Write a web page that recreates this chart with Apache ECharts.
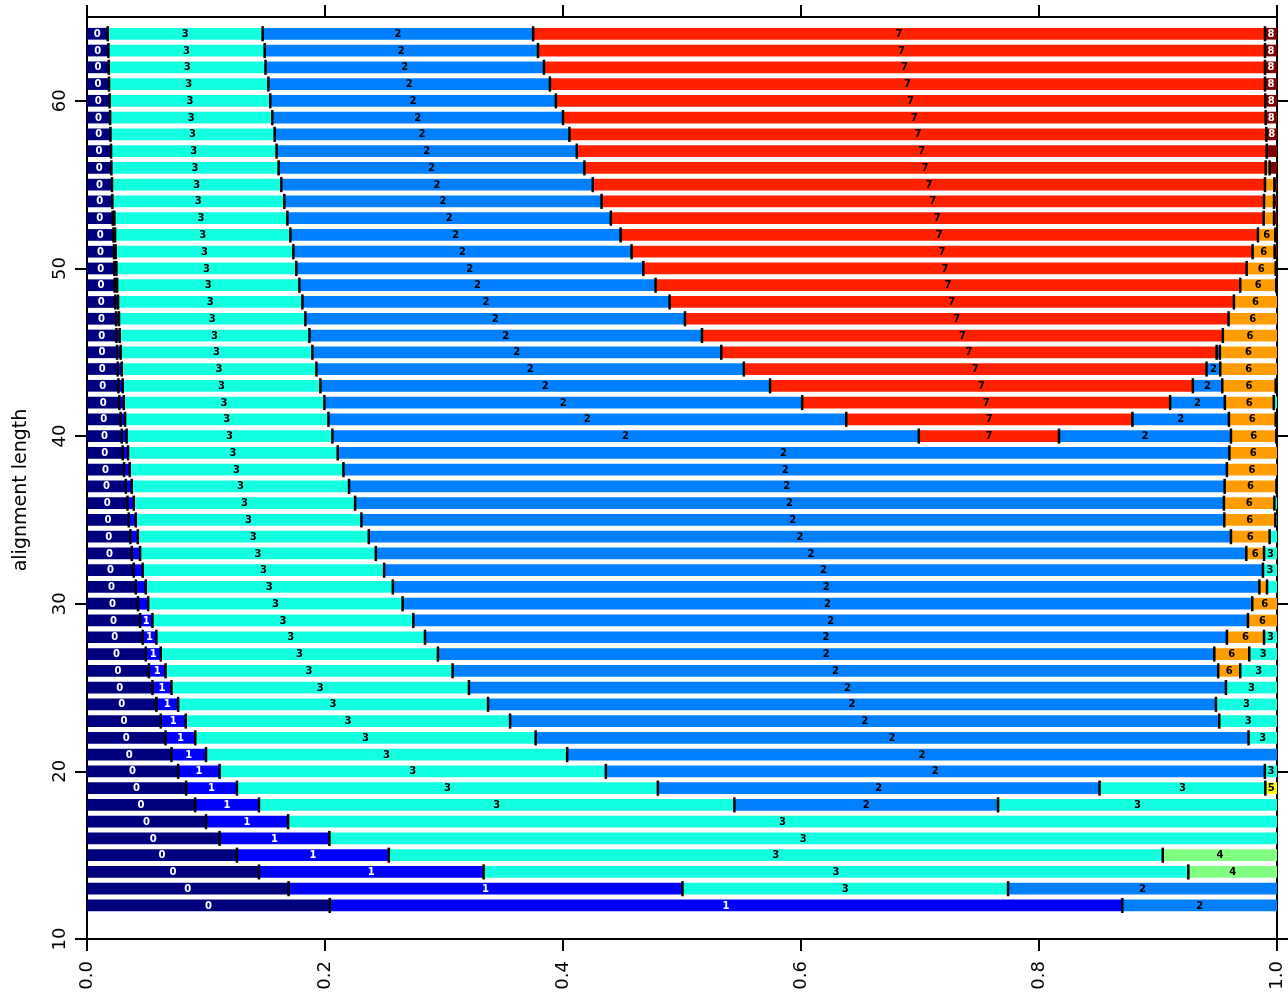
<!DOCTYPE html>
<html>
<head>
<meta charset="utf-8">
<script src="https://cdn.jsdelivr.net/npm/echarts@6/dist/echarts.min.js"></script>
<style>
  html, body { margin: 0; padding: 0; background: #fff; }
  #chart { width: 1288px; height: 995px; }
</style>
</head>
<body>
<div id="chart"></div>
<script>
  // alignment length of each row (y)
  const lengths = [12, 13, 14, 15, 16, 17, 18, 19, 20, 21, 22, 23, 24, 25, 26, 27, 28, 29, 30, 31,
    32, 33, 34, 35, 36, 37, 38, 39, 40, 41, 42, 43, 44, 45, 46, 47, 48, 49, 50, 51,
    52, 53, 54, 55, 56, 57, 58, 59, 60, 61, 62, 63, 64];

  // category of each run, left to right
  const segCats = [
    [0,1,2], [0,1,3,2], [0,1,3,4], [0,1,3,4], [0,1,3], [0,1,3], [0,1,3,2,3], [0,1,3,2,3,5],
    [0,1,3,2,3], [0,1,3,2], [0,1,3,2,3], [0,1,3,2,3], [0,1,3,2,3], [0,1,3,2,3],
    [0,1,3,2,6,3], [0,1,3,2,6,3], [0,1,3,2,6,3], [0,1,3,2,6], [0,1,3,2,6], [0,1,3,2,6,3],
    [0,1,3,2,3], [0,1,3,2,6,3], [0,1,3,2,6,3], [0,1,3,2,6,3], [0,1,3,2,6,3], [0,1,3,2,6,3],
    [0,1,3,2,6], [0,1,3,2,6],
    [0,1,3,2,7,2,6,3], [0,1,3,2,7,2,6,3], [0,1,3,2,7,2,6,3], [0,1,3,2,7,2,6,3],
    [0,1,3,2,7,2,6], [0,1,3,2,7,2,6], [0,1,3,2,7,6], [0,1,3,2,7,6], [0,1,3,2,7,6],
    [0,1,3,2,7,6,8], [0,1,3,2,7,6,8], [0,1,3,2,7,6,8], [0,1,3,2,7,6,8], [0,1,3,2,7,6,8],
    [0,3,2,7,6,8], [0,3,2,7,6,8], [0,3,2,7,6,8],
    [0,3,2,7,8], [0,3,2,7,8], [0,3,2,7,8], [0,3,2,7,8], [0,3,2,7,8], [0,3,2,7,8], [0,3,2,7,8], [0,3,2,7,8]
  ];

  // cumulative fraction where each run ends
  const segEnds = [
    [0.204, 0.870, 1],
    [0.1694, 0.5004, 0.774, 1],
    [0.1445, 0.3333, 0.9255, 1],
    [0.126, 0.2536, 0.904, 1],
    [0.1114, 0.2037, 1],
    [0.100, 0.169, 1],
    [0.0909, 0.1445, 0.544, 0.7656, 1],
    [0.0833, 0.126, 0.4797, 0.8509, 0.9902, 1],
    [0.0766, 0.1114, 0.436, 0.9898, 1],
    [0.071, 0.100, 0.4035, 1],
    [0.066, 0.091, 0.377, 0.9761, 1],
    [0.062, 0.083, 0.3555, 0.9515, 1],
    [0.0583, 0.0766, 0.337, 0.9487, 1],
    [0.055, 0.071, 0.321, 0.9571, 1],
    [0.052, 0.066, 0.3072, 0.9506, 0.9691, 1],
    [0.0494, 0.062, 0.2949, 0.9473, 0.9767, 1],
    [0.0468, 0.0583, 0.284, 0.9579, 0.9891, 1],
    [0.0446, 0.055, 0.2742, 0.9756, 1],
    [0.0429, 0.0514, 0.2652, 0.9792, 1],
    [0.041, 0.0494, 0.257, 0.9852, 0.9916, 1],
    [0.0393, 0.0468, 0.2497, 0.9882, 1],
    [0.0376, 0.0446, 0.2427, 0.9742, 0.9891, 1],
    [0.0365, 0.0427, 0.2368, 0.9613, 0.9938, 1],
    [0.0351, 0.041, 0.2306, 0.9557, 0.9986, 1],
    [0.034, 0.0393, 0.2253, 0.9554, 0.9978, 1],
    [0.0326, 0.0376, 0.2202, 0.956, 0.9995, 1],
    [0.0311, 0.0359, 0.2155, 0.9579, 1],
    [0.030, 0.0345, 0.2107, 0.960, 1],
    [0.0292, 0.0333, 0.2062, 0.699, 0.8168, 0.9613, 0.9994, 1],
    [0.0283, 0.032, 0.2029, 0.638, 0.8785, 0.9596, 0.9989, 1],
    [0.0272, 0.0309, 0.1995, 0.601, 0.9102, 0.9562, 0.9973, 1],
    [0.0264, 0.030, 0.1961, 0.574, 0.9293, 0.954, 0.9989, 1],
    [0.0258, 0.0292, 0.1928, 0.552, 0.9408, 0.9523, 1],
    [0.0253, 0.0283, 0.1894, 0.533, 0.9493, 0.952, 1],
    [0.0247, 0.0275, 0.1869, 0.5168, 0.9545, 1],
    [0.0244, 0.0269, 0.1835, 0.5025, 0.9593, 1],
    [0.0238, 0.0261, 0.181, 0.4896, 0.9638, 1],
    [0.0233, 0.0253, 0.1785, 0.4778, 0.9691, 0.9994, 1],
    [0.023, 0.0247, 0.1759, 0.4675, 0.9745, 0.9989, 1],
    [0.0227, 0.0241, 0.1734, 0.4576, 0.9795, 0.998, 1],
    [0.0222, 0.0236, 0.1709, 0.4484, 0.984, 0.9986, 1],
    [0.0216, 0.023, 0.1684, 0.4402, 0.9888, 0.9975, 1],
    [0.0213, 0.1658, 0.4324, 0.9891, 0.9975, 1],
    [0.021, 0.1633, 0.425, 0.9899, 0.9978, 1],
    [0.0205, 0.161, 0.418, 0.9905, 0.9938, 1],
    [0.0202, 0.1593, 0.4116, 0.9914, 1],
    [0.0197, 0.1577, 0.4054, 0.991, 1],
    [0.0194, 0.1557, 0.400, 0.9905, 1],
    [0.019, 0.154, 0.394, 0.9901, 1],
    [0.0185, 0.1524, 0.389, 0.9899, 1],
    [0.0183, 0.150, 0.384, 0.9899, 1],
    [0.018, 0.1493, 0.379, 0.9899, 1],
    [0.0174, 0.1476, 0.3749, 0.9899, 1]
  ];

  const yTicks = [10, 20, 30, 40, 50, 60];

  const catColors = ['#00007F', '#0000FF', '#007FFF', '#12FFE0', '#80FF80', '#FFFF00', '#FF9C00', '#FF2000', '#7F0000'];
  const darkCats = [0, 1, 8];   // white label on these
  const minLabelWidth = 0.0088; // narrower runs get no number

  // build run rectangles and separator marks
  let runs = [];
  let seps = [];
  lengths.forEach(function (len, i) {
    let start = 0;
    segEnds[i].forEach(function (end, k) {
      runs.push([start, end, len, segCats[i][k]]);
      if (end < 1) seps.push([end, len]);
      start = end;
    });
  });

  const chart = echarts.init(document.getElementById('chart'));

  function axisX(pos, showLabel) {
    return {
      type: 'value', position: pos, min: 0, max: 1, interval: 0.2,
      axisLine: { show: true, onZero: false, lineStyle: { color: '#000', width: 2 } },
      axisTick: { show: true, length: 12, lineStyle: { color: '#000', width: 2 } },
      splitLine: { show: false },
      axisLabel: {
        show: showLabel, rotate: 90, margin: 22, color: '#000', fontSize: 18,
        fontFamily: 'DejaVu Sans',
        formatter: function (v) { return v.toFixed(1); }
      }
    };
  }

  function axisY(pos, showLabel) {
    return {
      type: 'value', position: pos, min: 10, max: 65,
      axisLine: { show: true, onZero: false, lineStyle: { color: '#000', width: 2 } },
      axisTick: { show: true, length: 12, customValues: yTicks, lineStyle: { color: '#000', width: 2 } },
      splitLine: { show: false },
      axisLabel: {
        show: showLabel, customValues: yTicks, rotate: 90, margin: 18, color: '#000', fontSize: 18,
        fontFamily: 'DejaVu Sans'
      }
    };
  }

  let yLeft = axisY('left', true);
  yLeft.name = 'alignment length';
  yLeft.nameLocation = 'middle';
  yLeft.nameGap = 56;
  // pushed a little below the plot's middle, like the original
  yLeft.nameTextStyle = { color: '#000', fontSize: 19, fontFamily: 'DejaVu Sans', padding: [0, 24, 0, 0] };

  chart.setOption({
    animation: false,
    grid: { left: 87, right: 11, top: 17, bottom: 56 },
    xAxis: [axisX('bottom', true), axisX('top', false)],
    yAxis: [yLeft, axisY('right', false)],
    series: [
      {
        type: 'custom',
        data: runs,
        encode: { x: [0, 1], y: 2 },
        renderItem: function (params, api) {
          const a = api.coord([api.value(0), api.value(2)]);
          const b = api.coord([api.value(1), api.value(2)]);
          const h = api.size([0, 0.7])[1];
          const cat = api.value(3);
          let children = [{
            type: 'rect',
            shape: { x: a[0], y: a[1] - h / 2, width: b[0] - a[0], height: h },
            style: { fill: catColors[cat] }
          }];
          if (api.value(1) - api.value(0) >= minLabelWidth) {
            children.push({
              type: 'text',
              style: {
                text: String(cat), x: (a[0] + b[0]) / 2, y: a[1] + 0.5,
                align: 'center', verticalAlign: 'middle',
                fill: darkCats.indexOf(cat) >= 0 ? '#fff' : '#000',
                font: 'bold 10px "DejaVu Sans"'
              }
            });
          }
          return { type: 'group', children: children };
        }
      },
      {
        type: 'custom',
        data: seps,
        z: 3,
        encode: { x: 0, y: 1 },
        renderItem: function (params, api) {
          const p = api.coord([api.value(0), api.value(1)]);
          const h = api.size([0, 0.9])[1];
          return {
            type: 'rect',
            shape: { x: p[0] - 1.25, y: p[1] - h / 2, width: 2.5, height: h },
            style: { fill: '#000' }
          };
        }
      }
    ]
  });
</script>
</body>
</html>
